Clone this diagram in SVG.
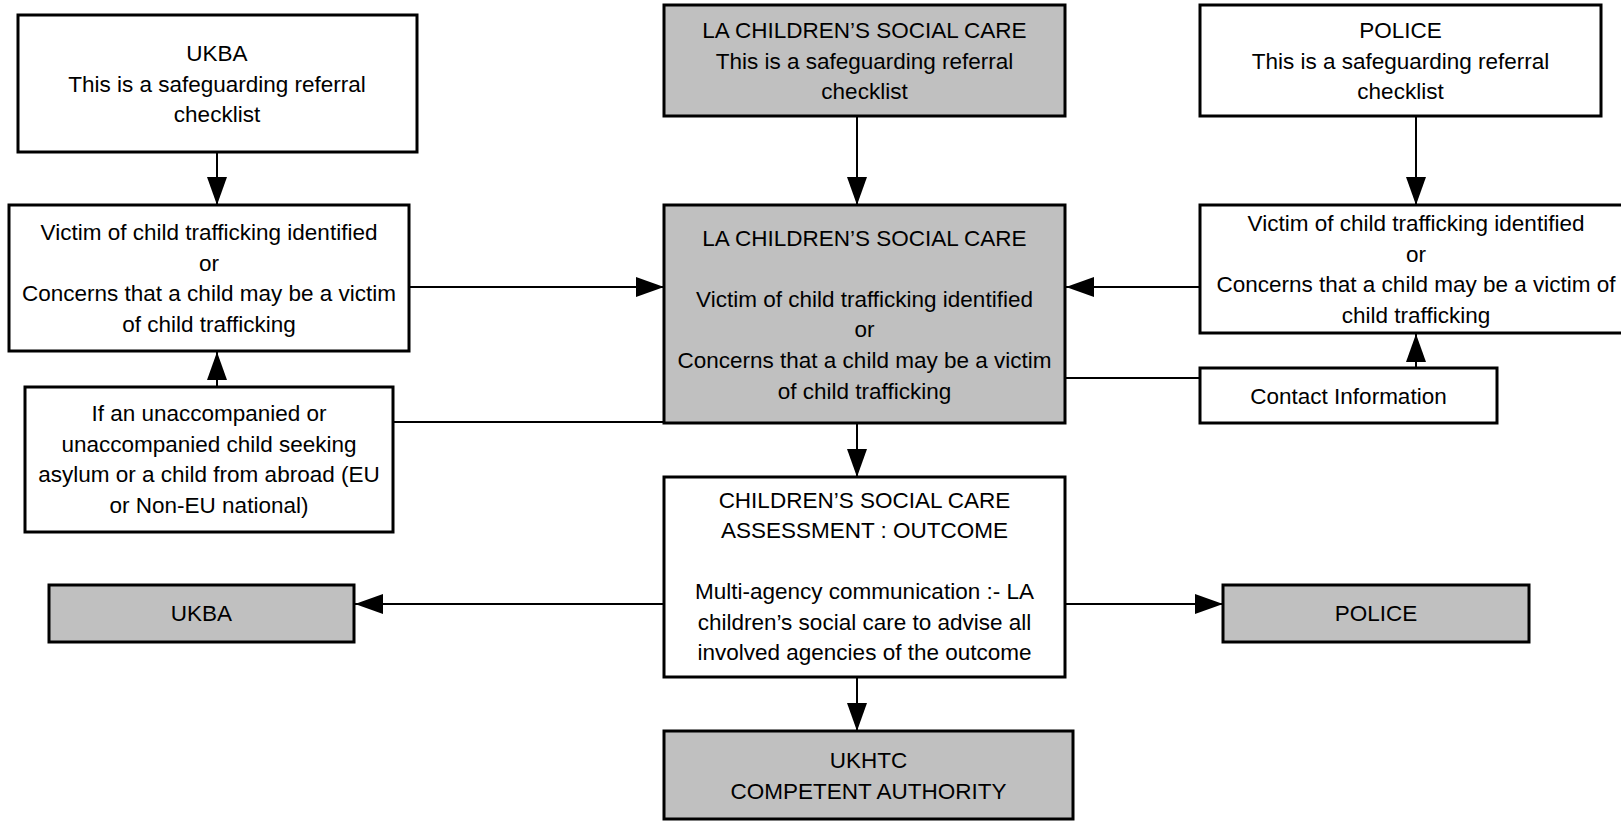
<svg xmlns="http://www.w3.org/2000/svg" width="1621" height="821" viewBox="0 0 1621 821">
<style>
.box{stroke:#000;stroke-width:3;fill:#fff}
.grey{fill:#c0c0c0}
.t{font-family:"Liberation Sans",Arial,sans-serif;font-size:22.5px;fill:#000;text-anchor:middle}
.ln{stroke:#000;stroke-width:2;fill:none}
.arr{marker-end:url(#ah)}
</style>
<defs>
<marker id="ah" viewBox="0 0 28 20" refX="28" refY="10" markerWidth="28" markerHeight="20" markerUnits="userSpaceOnUse" orient="auto">
<path d="M0,0 L28,10 L0,20 Z" fill="#000"/>
</marker>
</defs>
<rect width="1621" height="821" fill="#fff"/>
<g id="connectors">
<line class="ln arr" x1="217" y1="152" x2="217" y2="205"/>
<line class="ln arr" x1="217" y1="387" x2="217" y2="352"/>
<line class="ln arr" x1="409" y1="287" x2="664" y2="287"/>
<line class="ln" x1="393" y1="422" x2="664" y2="422"/>
<line class="ln arr" x1="857" y1="116" x2="857" y2="205"/>
<line class="ln arr" x1="1416" y1="116" x2="1416" y2="205"/>
<line class="ln arr" x1="1200" y1="287" x2="1066" y2="287"/>
<line class="ln" x1="1065" y1="378" x2="1200" y2="378"/>
<line class="ln arr" x1="1416" y1="368" x2="1416" y2="334"/>
<line class="ln arr" x1="857" y1="423" x2="857" y2="477"/>
<line class="ln arr" x1="664" y1="604" x2="355" y2="604"/>
<line class="ln arr" x1="1065" y1="604" x2="1223" y2="604"/>
<line class="ln arr" x1="857" y1="677" x2="857" y2="731"/>
</g>
<g id="ukba-top">
<rect class="box" x="18" y="15" width="399" height="137"/>
<text class="t"><tspan x="217" y="61">UKBA</tspan><tspan x="217" y="91.5">This is a safeguarding referral</tspan><tspan x="217" y="122">checklist</tspan></text>
</g>
<g id="victim-left">
<rect class="box" x="9" y="205" width="400" height="146"/>
<text class="t"><tspan x="209" y="240">Victim of child trafficking identified</tspan><tspan x="209" y="270.7">or</tspan><tspan x="209" y="301.3">Concerns that a child may be a victim</tspan><tspan x="209" y="332">of child trafficking</tspan></text>
</g>
<g id="unaccompanied">
<rect class="box" x="25" y="387" width="368" height="145"/>
<text class="t"><tspan x="209" y="421">If an unaccompanied or</tspan><tspan x="209" y="451.6">unaccompanied child seeking</tspan><tspan x="209" y="482.2">asylum or a child from abroad (EU</tspan><tspan x="209" y="512.8">or Non-EU national)</tspan></text>
</g>
<g id="lacsc-top">
<rect class="box grey" x="664" y="5" width="401" height="111"/>
<text class="t"><tspan x="864.5" y="38">LA CHILDREN’S SOCIAL CARE</tspan><tspan x="864.5" y="68.5">This is a safeguarding referral</tspan><tspan x="864.5" y="99">checklist</tspan></text>
</g>
<g id="lacsc-main">
<rect class="box grey" x="664" y="205" width="401" height="218"/>
<text class="t"><tspan x="864.5" y="245.5">LA CHILDREN’S SOCIAL CARE</tspan><tspan x="864.5" y="306.7">Victim of child trafficking identified</tspan><tspan x="864.5" y="337.3">or</tspan><tspan x="864.5" y="367.9">Concerns that a child may be a victim</tspan><tspan x="864.5" y="398.5">of child trafficking</tspan></text>
</g>
<g id="police-top">
<rect class="box" x="1200" y="5" width="401" height="111"/>
<text class="t"><tspan x="1400.5" y="38">POLICE</tspan><tspan x="1400.5" y="68.5">This is a safeguarding referral</tspan><tspan x="1400.5" y="99">checklist</tspan></text>
</g>
<g id="victim-right">
<rect class="box" x="1200" y="205" width="434" height="128"/>
<text class="t"><tspan x="1416" y="231">Victim of child trafficking identified</tspan><tspan x="1416" y="261.6">or</tspan><tspan x="1416" y="292.2">Concerns that a child may be a victim of</tspan><tspan x="1416" y="322.8">child trafficking</tspan></text>
</g>
<g id="contact">
<rect class="box" x="1200" y="368" width="297" height="55"/>
<text class="t" x="1348.5" y="403.5">Contact Information</text>
</g>
<g id="assessment">
<rect class="box" x="664" y="477" width="401" height="200"/>
<text class="t"><tspan x="864.5" y="507.5">CHILDREN’S SOCIAL CARE</tspan><tspan x="864.5" y="538">ASSESSMENT : OUTCOME</tspan><tspan x="864.5" y="599">Multi-agency communication :- LA</tspan><tspan x="864.5" y="629.5">children’s social care to advise all</tspan><tspan x="864.5" y="660">involved agencies of the outcome</tspan></text>
</g>
<g id="ukba-bottom">
<rect class="box grey" x="49" y="585" width="305" height="57"/>
<text class="t" x="201.5" y="621">UKBA</text>
</g>
<g id="police-bottom">
<rect class="box grey" x="1223" y="585" width="306" height="57"/>
<text class="t" x="1376" y="621">POLICE</text>
</g>
<g id="ukhtc">
<rect class="box grey" x="664" y="731" width="409" height="88"/>
<text class="t"><tspan x="868.5" y="768">UKHTC</tspan><tspan x="868.5" y="798.5">COMPETENT AUTHORITY</tspan></text>
</g>
</svg>
